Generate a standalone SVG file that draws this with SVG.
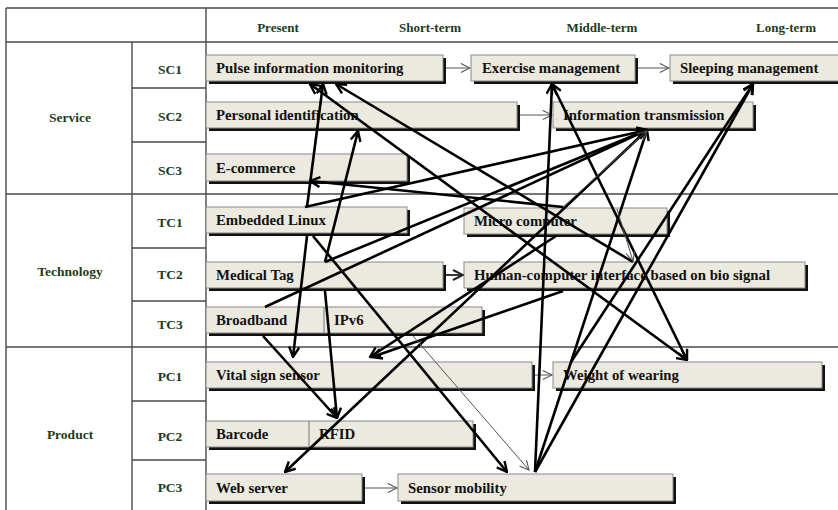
<svg xmlns="http://www.w3.org/2000/svg" width="838" height="510" viewBox="0 0 838 510">
  <style>
    .grid { stroke: #4a4a4a; stroke-width: 1.4; fill: none; }
    .hdr { font-family: "Liberation Serif", serif; font-weight: bold; font-size: 13px; fill: #1d3b1d; text-anchor: middle; }
    .cat { font-family: "Liberation Serif", serif; font-weight: bold; font-size: 13.5px; fill: #1d3b1d; text-anchor: middle; }
    .shadow { fill: #111; }
    .box { fill: #ece9df; stroke: #8a8a8a; stroke-width: 1; }
    .lbl { font-family: "Liberation Serif", serif; font-weight: bold; font-size: 14.8px; fill: #111; }
    .thick { stroke: #000; stroke-width: 2.6; fill: none; marker-end: url(#ah); }
    .thin { stroke: #555; stroke-width: 1; fill: none; marker-end: url(#ahs); }
    .mid { stroke: #222; stroke-width: 1.8; fill: none; marker-end: url(#ahm); }
  </style>
  <defs>
    <marker id="ah" viewBox="0 0 12 12" refX="11" refY="6" markerWidth="12" markerHeight="12" markerUnits="userSpaceOnUse" orient="auto">
      <path d="M1,1 L11,6 L1,11" fill="none" stroke="#000" stroke-width="2.4"/>
    </marker>
    <marker id="ahb" viewBox="0 0 12 12" refX="11" refY="6" markerWidth="12" markerHeight="12" markerUnits="userSpaceOnUse" orient="auto-start-reverse">
      <path d="M1,1 L11,6 L1,11" fill="none" stroke="#000" stroke-width="2.4"/>
    </marker>
    <marker id="ahs" viewBox="0 0 12 12" refX="11" refY="6" markerWidth="11" markerHeight="11" markerUnits="userSpaceOnUse" orient="auto">
      <path d="M1,1 L11,6 L1,11" fill="none" stroke="#555" stroke-width="1.2"/>
    </marker>
    <marker id="ahm" viewBox="0 0 12 12" refX="11" refY="6" markerWidth="12" markerHeight="12" markerUnits="userSpaceOnUse" orient="auto">
      <path d="M1,1 L11,6 L1,11" fill="none" stroke="#222" stroke-width="2"/>
    </marker>
  </defs>

  <rect width="838" height="510" fill="#fff"/>

  <!-- table grid -->
  <g id="table">
    <path class="grid" d="M6,8 H838 M6,42 H838 M6,194 H838 M6,347 H838 M6,8 V510 M206,8 V510 M132,42 V510 M132,88 H206 M132,142 H206 M132,248 H206 M132,301 H206 M132,401 H206 M132,460 H206"/>
    <text class="hdr" x="278" y="32">Present</text>
    <text class="hdr" x="430" y="32">Short-term</text>
    <text class="hdr" x="602" y="32">Middle-term</text>
    <text class="hdr" x="786" y="32">Long-term</text>
    <text class="cat" x="70" y="122">Service</text>
    <text class="cat" x="70" y="276">Technology</text>
    <text class="cat" x="70" y="439">Product</text>
    <text class="cat" x="170" y="74">SC1</text>
    <text class="cat" x="170" y="121">SC2</text>
    <text class="cat" x="170" y="175">SC3</text>
    <text class="cat" x="170" y="227">TC1</text>
    <text class="cat" x="170" y="279">TC2</text>
    <text class="cat" x="170" y="329">TC3</text>
    <text class="cat" x="170" y="381">PC1</text>
    <text class="cat" x="170" y="441">PC2</text>
    <text class="cat" x="170" y="492">PC3</text>
  </g>

  <!-- nodes -->
  <g id="sc1-pulse"><rect class="shadow" x="209" y="58" width="237" height="26"/><rect class="box" x="206" y="55" width="237" height="26"/><text class="lbl" x="216" y="73">Pulse information monitoring</text></g>
  <g id="sc1-exercise"><rect class="shadow" x="474" y="58" width="164" height="26"/><rect class="box" x="471" y="55" width="164" height="26"/><text class="lbl" x="482" y="73">Exercise management</text></g>
  <g id="sc1-sleeping"><rect class="shadow" x="673" y="58" width="170" height="26"/><rect class="box" x="670" y="55" width="170" height="26"/><text class="lbl" x="680" y="73">Sleeping management</text></g>
  <g id="sc2-personal"><rect class="shadow" x="209" y="105" width="311" height="26"/><rect class="box" x="206" y="102" width="311" height="26"/><text class="lbl" x="216" y="120">Personal identification</text></g>
  <g id="sc2-info"><rect class="shadow" x="556" y="105" width="200" height="26"/><rect class="box" x="553" y="102" width="200" height="26"/><text class="lbl" x="563" y="120">Information transmission</text></g>
  <g id="sc3-ecommerce"><rect class="shadow" x="209" y="157" width="201" height="27"/><rect class="box" x="206" y="154" width="201" height="27"/><text class="lbl" x="216" y="173">E-commerce</text></g>
  <g id="tc1-linux"><rect class="shadow" x="209" y="210" width="201" height="26"/><rect class="box" x="206" y="207" width="201" height="26"/><text class="lbl" x="216" y="225">Embedded Linux</text></g>
  <g id="tc1-micro"><rect class="shadow" x="467" y="211" width="203" height="26"/><rect class="box" x="464" y="208" width="203" height="26"/><text class="lbl" x="474" y="226">Micro computer</text></g>
  <g id="tc2-medical"><rect class="shadow" x="209" y="265" width="237" height="26"/><rect class="box" x="206" y="262" width="237" height="26"/><text class="lbl" x="216" y="280">Medical Tag</text></g>
  <g id="tc2-hci"><rect class="shadow" x="467" y="265" width="341" height="26"/><rect class="box" x="464" y="262" width="341" height="26"/><text class="lbl" x="474" y="280">Human-computer interface based on bio signal</text></g>
  <g id="tc3-network"><rect class="shadow" x="209" y="310" width="276" height="26"/><rect class="box" x="206" y="307" width="276" height="26"/><line x1="324" y1="307" x2="324" y2="333" stroke="#777" stroke-width="1"/><text class="lbl" x="216" y="325">Broadband</text><text class="lbl" x="334" y="325">IPv6</text></g>
  <g id="pc1-vital"><rect class="shadow" x="209" y="365" width="326" height="26"/><rect class="box" x="206" y="362" width="326" height="26"/><text class="lbl" x="216" y="380">Vital sign sensor</text></g>
  <g id="pc1-weight"><rect class="shadow" x="556" y="365" width="269" height="26"/><rect class="box" x="553" y="362" width="269" height="26"/><text class="lbl" x="563" y="380">Weight of wearing</text></g>
  <g id="pc2-id"><rect class="shadow" x="209" y="424" width="267" height="26"/><rect class="box" x="206" y="421" width="267" height="26"/><line x1="309" y1="421" x2="309" y2="447" stroke="#777" stroke-width="1"/><text class="lbl" x="216" y="439">Barcode</text><text class="lbl" x="319" y="439">RFID</text></g>
  <g id="pc3-web"><rect class="shadow" x="209" y="477" width="156" height="27"/><rect class="box" x="206" y="474" width="156" height="27"/><text class="lbl" x="216" y="493">Web server</text></g>
  <g id="pc3-mobility"><rect class="shadow" x="401" y="477" width="275" height="27"/><rect class="box" x="398" y="474" width="275" height="27"/><text class="lbl" x="408" y="493">Sensor mobility</text></g>

  <!-- connectors -->
  <g id="connectors">
    <!-- sequential steps within a row -->
    <line class="thin" x1="446" y1="68" x2="470" y2="68"/>
    <line class="thin" x1="638" y1="68" x2="669" y2="68"/>
    <line class="thin" x1="520" y1="115" x2="552" y2="115"/>
    <line class="thin" x1="535" y1="375" x2="552" y2="375"/>
    <line class="thin" x1="365" y1="488" x2="397" y2="488"/>
    <line class="mid" x1="446" y1="275" x2="463" y2="275"/>

    <!-- cross-layer dependencies -->
    <line class="thick" x1="307" y1="207" x2="323" y2="84"/>
    <line class="thick" x1="307" y1="236" x2="293" y2="357"/>
    <line class="thick" x1="313" y1="236" x2="507" y2="472"/>
    <line class="thick" x1="305" y1="207" x2="647" y2="130"/>
    <line class="thick" x1="325" y1="262" x2="358" y2="131"/>
    <line class="thick" x1="325" y1="262" x2="647" y2="130"/>
    <line class="thick" x1="325" y1="291" x2="337" y2="418"/>
    <line class="thick" x1="265" y1="307" x2="647" y2="130"/>
    <line class="thick" x1="647" y1="130" x2="285" y2="472"/>
    <line class="thick" x1="535" y1="472" x2="552" y2="84"/>
    <line class="thick" x1="535" y1="472" x2="647" y2="130"/>
    <line class="thick" x1="535" y1="472" x2="753" y2="84"/>
    <line class="thick" x1="571" y1="362" x2="753" y2="84"/>
    <line class="thick" x1="552" y1="84" x2="687" y2="360" marker-start="url(#ahb)"/>
    <line class="thick" x1="310" y1="84" x2="687" y2="360" marker-start="url(#ahb)"/>
    <line class="thick" x1="633" y1="262" x2="336" y2="84"/>
    <line class="thin" x1="617" y1="209" x2="633" y2="261" stroke-width="1.3"/>
    <line class="thick" x1="563" y1="207" x2="310" y2="181"/>
    <line class="thin" x1="563" y1="207" x2="647" y2="131"/>
    <line class="thick" x1="563" y1="291" x2="372" y2="357"/>
    <line class="thick" x1="556" y1="236" x2="370" y2="357"/>
    <line class="thick" x1="263" y1="336" x2="337" y2="418"/>
    <line class="thin" x1="413" y1="336" x2="529" y2="470"/>
  </g>
</svg>
